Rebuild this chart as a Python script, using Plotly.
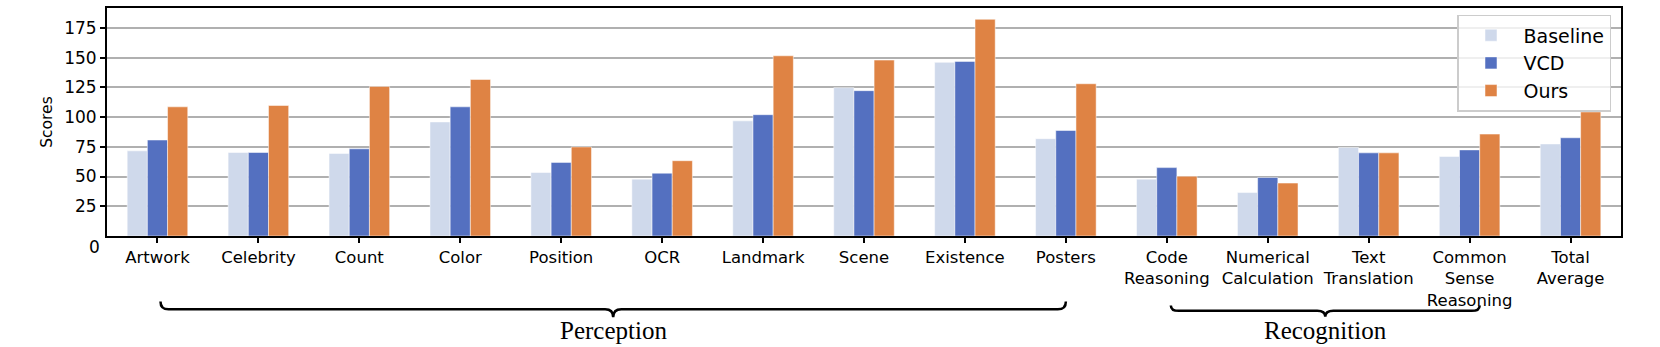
import plotly.graph_objects as go

# categories and scores
categories = ["Artwork", "Celebrity", "Count", "Color", "Position", "OCR", "Landmark",
              "Scene", "Existence", "Posters", "Code<br>Reasoning", "Numerical<br>Calculation",
              "Text<br>Translation", "Common<br>Sense<br>Reasoning", "Total<br>Average"]
baseline = [71.6, 70.2, 69.4, 95.9, 53.4, 47.8, 96.8, 124.7, 146.0, 81.8, 47.8, 36.5, 74.4, 66.9, 77.4]
vcd = [80.7, 70.2, 73.3, 108.6, 61.9, 52.8, 102.0, 122.2, 146.8, 88.7, 57.5, 49.2, 69.9, 72.4, 82.6]
ours = [108.6, 109.7, 125.8, 131.6, 74.9, 63.3, 151.5, 147.9, 182.2, 128.0, 50.3, 44.5, 69.9, 85.7, 104.3]
yticks = [25, 50, 75, 100, 125, 150, 175]

# bracket groups: (label, first index, last index)
groups = [("Perception", 0.03, 9.0), ("Recognition", 10.04, 13.1)]

x = list(range(len(categories)))
fig = go.Figure()
for name, vals, col in [("Baseline", baseline, "#cfd9eb"),
                        ("VCD", vcd, "#5470c0"),
                        ("Ours", ours, "#df8344")]:
    fig.add_trace(go.Bar(x=x, y=vals, name=name, marker_color=col,
                         marker_line=dict(color="white", width=0.5)))

# plot area is 230 px tall, convert pixel offsets below it to paper units
def py(px):
    return (236 - px) / 230

shapes = []
annotations = []
for i, (label, x0, x1) in enumerate(groups):
    xm = (x0 + x1) / 2
    d = 0.08
    top = py(302) if i == 0 else py(306)
    line = py(310) if i == 0 else py(311.5)
    tip = py(318) if i == 0 else py(317.5)
    path = (f"M {x0},{top} Q {x0},{line} {x0 + d},{line} L {xm - d},{line} "
            f"Q {xm},{line} {xm},{tip} Q {xm},{line} {xm + d},{line} "
            f"L {x1 - d},{line} Q {x1},{line} {x1},{top}")
    shapes.append(dict(type="path", path=path, xref="x", yref="paper",
                       line=dict(color="black", width=2.5)))
    annotations.append(dict(text=label, x=xm, y=py(331), xref="x", yref="paper",
                            showarrow=False, yanchor="middle",
                            font=dict(family="Liberation Serif", size=25, color="black")))

# zero label sits a little below the axis in the original
annotations.append(dict(text="0", x=0, y=0, xref="paper", yref="y", xanchor="right",
                        yanchor="middle", xshift=-5, yshift=-11, showarrow=False,
                        font=dict(family="DejaVu Sans", size=17, color="black")))

fig.update_layout(
    width=1660, height=347,
    margin=dict(l=107, r=39, t=6, b=111),
    plot_bgcolor="white", paper_bgcolor="white",
    barmode="group", bargap=0.4, bargroupgap=0,
    font=dict(family="DejaVu Sans", size=16.5, color="black"),
    shapes=shapes, annotations=annotations,
    legend=dict(x=0.9934, y=0.97, xanchor="right", yanchor="top",
                font=dict(size=19), bgcolor="rgba(255,255,255,0.8)",
                bordercolor="#cccccc", borderwidth=1.5, itemwidth=55),
)
fig.update_xaxes(range=[-0.5, 14.5], tickvals=x, ticktext=categories,
                 showline=True, linecolor="black", linewidth=2, mirror=True,
                 ticks="outside", ticklen=5, tickcolor="black", tickwidth=1.5,
                 showgrid=False, zeroline=False, tickangle=0)
fig.update_yaxes(range=[0, 191.7], tickvals=yticks, tickfont=dict(size=17),
                 showline=True, linecolor="black", linewidth=2, mirror=True,
                 ticks="outside", ticklen=5, tickcolor="black", tickwidth=1.5,
                 showgrid=True, gridcolor="#b0b0b0", gridwidth=1.5, zeroline=False,
                 title=dict(text="Scores", font=dict(size=15.5), standoff=8))

fig.write_html("out.html", config={"displayModeBar": False},
               post_script="document.body.style.margin='0';")
